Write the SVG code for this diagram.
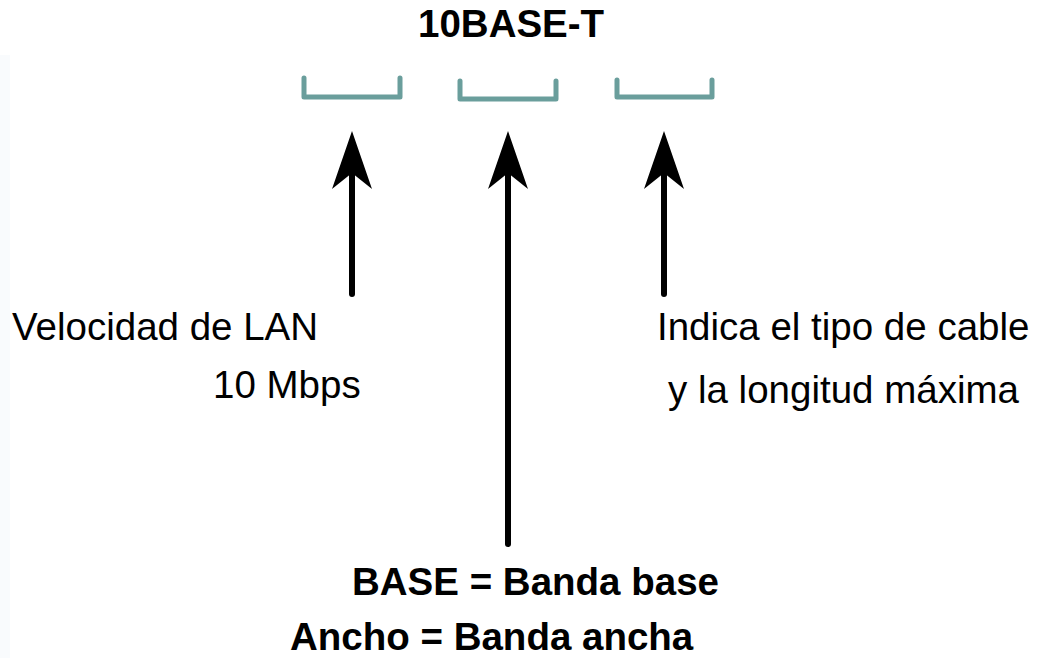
<svg xmlns="http://www.w3.org/2000/svg" width="1039" height="658" viewBox="0 0 1039 658">
<style>
.t{font-family:"Liberation Sans",Arial,sans-serif;font-size:38.5px;fill:#000}
.b{font-weight:bold}
.br{fill:none;stroke:#6a9e9c;stroke-width:5;stroke-linecap:round;stroke-linejoin:round}
.ar{stroke:#000;stroke-width:6;stroke-linecap:round;marker-end:url(#ah)}
</style>
<defs>
<marker id="ah" markerUnits="userSpaceOnUse" viewBox="0 -21 60 42" markerWidth="60" markerHeight="42" refX="16" refY="0" orient="auto">
<path d="M58,0 L0,-20 L16,0 L0,20 Z" fill="#000"/>
</marker>
</defs>
<rect width="1039" height="658" fill="#fff"/>
<rect x="0" y="55" width="10" height="603" fill="#f9fbfd"/>
<g id="title"><text class="t b" x="418" y="37">10BASE-T</text></g>
<g id="brackets">
<path class="br" d="M304,78 V97 H400 V78"/>
<path class="br" d="M460,81 V99 H556 V81"/>
<path class="br" d="M617,80 V97 H712 V80"/>
</g>
<g id="connectors">
<line class="ar" x1="352" y1="294" x2="352" y2="173"/>
<line class="ar" x1="508" y1="544" x2="508" y2="173"/>
<line class="ar" x1="664" y1="294" x2="664" y2="173"/>
</g>
<g id="speed">
<text class="t" x="12" y="340">Velocidad de LAN</text>
<text class="t" x="213" y="398">10 Mbps</text>
</g>
<g id="cable">
<text class="t" x="657" y="340">Indica el tipo de cable</text>
<text class="t" x="668" y="403">y la longitud máxima</text>
</g>
<g id="base">
<text class="t b" x="352" y="595">BASE = Banda base</text>
<text class="t b" x="290" y="650">Ancho = Banda ancha</text>
</g>
</svg>
